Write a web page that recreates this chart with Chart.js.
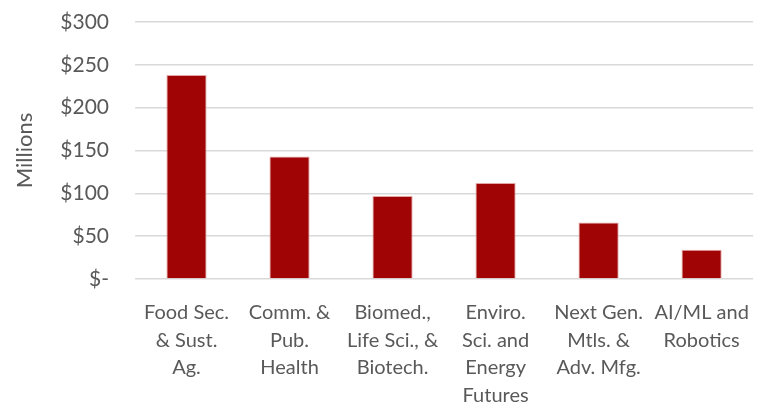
<!DOCTYPE html>
<html lang="en">
<head>
    <meta charset="UTF-8">
    <title>Funding by Area</title>
    <script src="https://cdn.jsdelivr.net/npm/chart.js"></script>
    <style>
        html, body { margin: 0; padding: 0; background: #fff; }
        #wrap { width: 761px; height: 407px; }
    </style>
</head>
<body>
    <div id="wrap"><canvas id="fundChart"></canvas></div>

    <script>
        // category labels (one string per line)
        var categories = [
            ['Food Sec.', '& Sust.', 'Ag.'],
            ['Comm. &', 'Pub.', 'Health'],
            ['Biomed.,', 'Life Sci., &', 'Biotech.'],
            ['Enviro.', 'Sci. and', 'Energy', 'Futures'],
            ['Next Gen.', 'Mtls. &', 'Adv. Mfg.'],
            ['AI/ML and', 'Robotics']
        ];
        // values in millions of dollars
        var funding = [238, 143, 97, 112, 66, 34];
        var yTicks = [0, 50, 100, 150, 200, 250, 300];

        var textColor = '#595959';
        var fontFamily = 'Lato, "Open Sans", sans-serif';

        var ctx = document.getElementById('fundChart').getContext('2d');
        var fundChart = new Chart(ctx, {
            type: 'bar',
            data: {
                labels: categories,
                datasets: [{
                    data: funding,
                    backgroundColor: '#A00404',
                    borderColor: '#E4A5A5',
                    borderWidth: 1,
                    categoryPercentage: 1.0,
                    barPercentage: 0.39
                }]
            },
            options: {
                responsive: true,
                maintainAspectRatio: false,
                animation: false,
                layout: { padding: { top: 22, right: 2, left: 0, bottom: 0 } },
                plugins: {
                    legend: { display: false },
                    tooltip: { enabled: false }
                },
                scales: {
                    x: {
                        grid: { display: false },
                        border: { display: false },
                        ticks: {
                            color: textColor,
                            font: { family: fontFamily, size: 20, lineHeight: 1.38 },
                            maxRotation: 0,
                            autoSkip: false,
                            padding: 12
                        },
                        afterFit: function(scale) { scale.height = 128; }
                    },
                    y: {
                        min: 0,
                        max: 300,
                        afterBuildTicks: function(scale) {
                            scale.ticks = yTicks.map(function(v) { return { value: v }; });
                        },
                        grid: { color: '#D9D9D9', lineWidth: 1.5, drawTicks: false },
                        border: { display: false },
                        ticks: {
                            color: textColor,
                            font: { family: fontFamily, size: 21 },
                            padding: 26,
                            callback: function(v) { return v === 0 ? '$-' : '$' + v; }
                        },
                        title: {
                            display: true,
                            text: 'Millions',
                            color: textColor,
                            font: { family: fontFamily, size: 22 },
                            padding: { top: 12, bottom: 0 }
                        },
                        afterFit: function(scale) {
                            scale.width = 135;
                            scale.paddingTop = 0;
                            scale.paddingBottom = 0;
                        }
                    }
                }
            }
        });
    </script>
</body>
</html>
